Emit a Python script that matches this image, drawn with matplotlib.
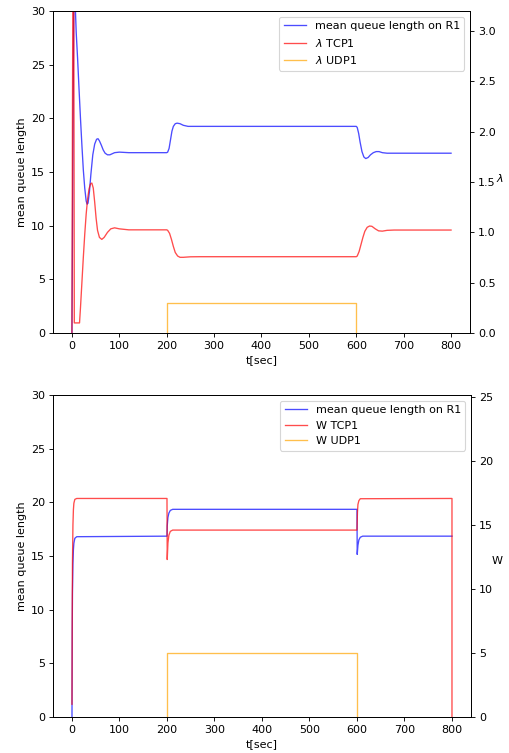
import matplotlib
matplotlib.use('Agg')
import matplotlib.pyplot as plt

# --- top panel: queue length and sending rates ---
t_q1 = [0, 1, 2, 3, 4, 5, 6, 7, 9, 12, 15, 18, 21, 24, 27, 30, 32, 34, 37, 40,
        44, 48, 52, 55, 58, 62, 66, 70, 75, 80, 85, 90, 100, 120, 200,
        202, 205, 208, 211, 214, 218, 222, 228, 235, 245, 260, 600,
        602, 605, 608, 612, 616, 620, 625, 630, 636, 642, 648, 655, 665, 680, 800]
queue1 = [0, 8, 17, 25, 31, 34, 33, 30.5, 28, 25.5, 22.7, 20, 17.5, 15.2, 13.5, 12.3, 12.0, 12.1, 13.2, 14.8,
          16.6, 17.6, 18.05, 18.1, 17.9, 17.5, 17.05, 16.75, 16.6, 16.6, 16.7, 16.8, 16.85, 16.8, 16.8,
          16.85, 17.2, 18.0, 18.8, 19.25, 19.5, 19.55, 19.5, 19.35, 19.25, 19.25, 19.25,
          19.15, 18.6, 17.8, 16.9, 16.4, 16.25, 16.35, 16.6, 16.8, 16.9, 16.9, 16.8, 16.75, 16.75, 16.75]

t_lam = [0, 1, 2, 3, 4, 5, 16, 18, 21, 24, 27, 30, 33, 36, 39, 42, 45, 48, 51, 54,
         58, 63, 68, 75, 82, 90, 100, 120, 200,
         202, 206, 210, 214, 218, 223, 228, 235, 250, 270, 600,
         602, 606, 610, 614, 618, 623, 628, 633, 640, 647, 655, 665, 680, 800]
lam_tcp = [0, 2.0, 3.6, 4.0, 3.0, 0.1, 0.1, 0.25, 0.5, 0.75, 0.98, 1.18, 1.33, 1.43, 1.48, 1.49, 1.44, 1.30, 1.14, 1.02,
           0.95, 0.93, 0.95, 1.00, 1.035, 1.045, 1.035, 1.025, 1.025,
           1.02, 0.99, 0.93, 0.86, 0.80, 0.765, 0.752, 0.752, 0.757, 0.758, 0.758,
           0.765, 0.81, 0.88, 0.95, 1.01, 1.05, 1.063, 1.06, 1.035, 1.015, 1.012, 1.02, 1.023, 1.023]

t_udp = [200, 200, 600, 600]
lam_udp = [0, 0.3, 0.3, 0]

# --- bottom panel: queue length and windows ---
t_q2 = [0, 0.5, 1, 2, 3, 4, 6, 10, 200, 200.5, 202, 204, 207, 212, 600,
        600.5, 602, 604, 607, 612, 800]
queue2 = [0, 8, 11.5, 14.3, 15.6, 16.2, 16.65, 16.8, 16.85, 17.8, 18.6, 19.0, 19.25, 19.35, 19.35,
          15.15, 16.0, 16.5, 16.75, 16.85, 16.85]

t_w = [0, 0.5, 1, 2, 3, 4, 6, 10, 200, 200.5, 202, 204, 207, 212, 600,
       601, 602, 604, 607, 800, 800]
w_tcp = [1.0, 8, 12, 15, 16.2, 16.7, 17.0, 17.07, 17.07, 12.3, 13.6, 14.2, 14.5, 14.6, 14.6,
         16.0, 16.6, 16.9, 17.05, 17.07, 0]

w_udp = [0, 5, 5, 0]

LW = 1.2

fig = plt.figure(figsize=(509 / 80, 753 / 80), dpi=80)

# Top plot
ax1 = fig.add_axes([0.1041, 0.5578, 0.8193, 0.4276])
l1, = ax1.plot(t_q1, queue1, color='b', alpha=0.7, lw=LW, label='mean queue length on R1')
ax1.set_ylim(0, 30)
ax1.set_ylabel('mean queue length')
ax1.set_xlabel('t[sec]')
ax2 = ax1.twinx()
l2, = ax2.plot(t_lam, lam_tcp, color='r', alpha=0.7, lw=LW, label=r'$\lambda$ TCP1')
l3, = ax2.plot(t_udp, lam_udp, color='orange', alpha=0.7, lw=LW, label=r'$\lambda$ UDP1')
ax2.set_ylim(0, 3.2)
ax2.set_ylabel(r'$\lambda$', rotation=0)
ax1.legend(handles=[l1, l2, l3], loc='upper right')
ax1.set_xlim(-40, 840)

# Bottom plot
ax3 = fig.add_axes([0.1041, 0.0478, 0.8212, 0.4276])
l4, = ax3.plot(t_q2, queue2, color='b', alpha=0.7, lw=LW, label='mean queue length on R1')
ax3.set_ylim(0, 30)
ax3.set_ylabel('mean queue length')
ax3.set_xlabel('t[sec]')
ax4 = ax3.twinx()
l5, = ax4.plot(t_w, w_tcp, color='r', alpha=0.7, lw=LW, label='W TCP1')
l6, = ax4.plot(t_udp, w_udp, color='orange', alpha=0.7, lw=LW, label='W UDP1')
ax4.set_ylim(0, 25.15)
ax4.set_ylabel('W', rotation=0)
ax3.legend(handles=[l4, l5, l6], loc='upper right')
ax3.set_xlim(-40, 840)

fig.savefig('out.png', dpi=80)
